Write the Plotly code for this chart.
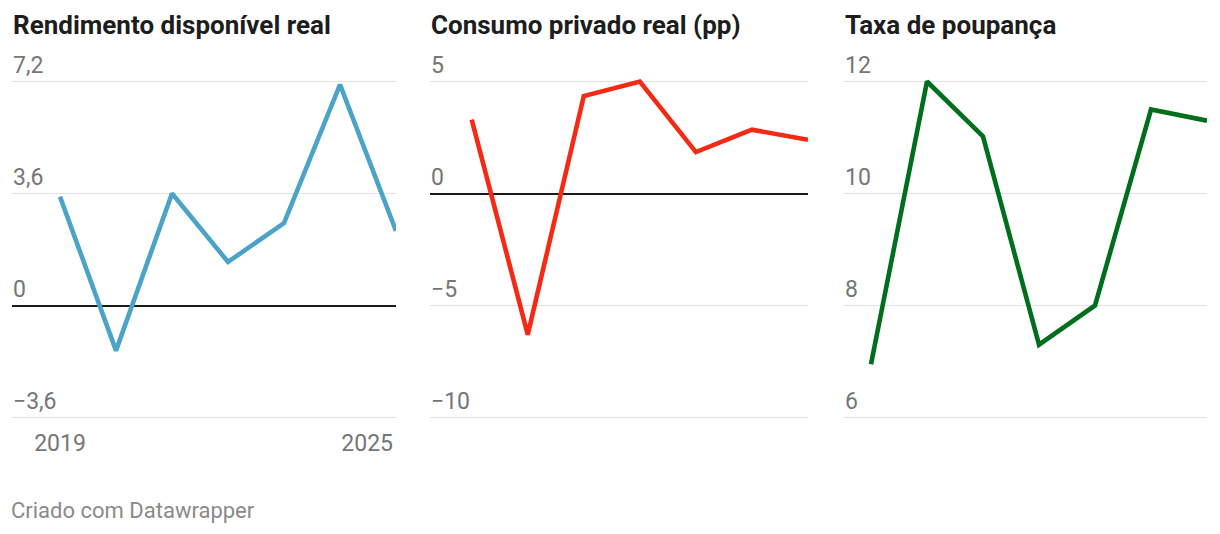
import plotly.graph_objects as go

years = [2019, 2020, 2021, 2022, 2023, 2024, 2025]
rendimento = [3.5, -1.45, 3.6, 1.4, 2.65, 7.1, 2.4]
consumo = [3.3, -6.3, 4.35, 5.0, 1.85, 2.85, 2.4]
poupanca = [6.95, 12.0, 11.02, 7.3, 8.0, 11.5, 11.3]

titles = ["Rendimento disponível real", "Consumo privado real (pp)", "Taxa de poupança"]
colors = ["#4ba4c8", "#f42a14", "#006f1b"]
ytickvals = [[7.2, 3.6, 0, -3.6], [5, 0, -5, -10], [12, 10, 8, 6]]
yticktext = [["7,2", "3,6", "0", "−3,6"], ["5", "0", "−5", "−10"], ["12", "10", "8", "6"]]
xtick_first = [2019]
xtick_first_text = ["2019"]
xtick_last = [2025]
xtick_last_text = ["2025"]
footer = "Criado com Datawrapper"

# page body has an 8px margin: reference pixel coords are shifted by OFF
OFF = 8
W, H = 1220, 534
TOP, BOT, PAD = 81.5 - OFF, 417.5 - OFF, 6
# panel pixel layout in reference coords: (left edge, x of first year, right edge)
panels = [(12, 60, 396), (430, 471.7, 808), (844, 871, 1207)]
TICKFONT = dict(family="Roboto", size=23, color="#767676")

fig = go.Figure()
series = [rendimento, consumo, poupanca]
ydom = [1 - (BOT + PAD) / H, 1 - (TOP - PAD) / H]


def xrange_for(p):
    left, first, right = p
    step = (right - first) / 6
    return [2019 - (first - left) / step, 2025]


def xdom_for(p):
    left, first, right = p
    return [(left - OFF) / W, (right - OFF) / W]


for i, (vals, col) in enumerate(zip(series, colors)):
    ax = "" if i == 0 else str(i + 1)
    fig.add_trace(go.Scatter(x=years, y=vals, mode="lines",
                             line=dict(color=col, width=4.6),
                             xaxis="x" + ax, yaxis="y" + ax,
                             showlegend=False, hoverinfo="skip"))
    lo, hi = min(ytickvals[i]), max(ytickvals[i])
    u = (hi - lo) / (BOT - TOP)
    yr = [lo - PAD * u, hi + PAD * u]
    fig.update_layout(**{
        "xaxis" + ax: dict(domain=xdom_for(panels[i]), range=xrange_for(panels[i]),
                           showgrid=False, zeroline=False, showline=False,
                           tickvals=xtick_first if i == 0 else [],
                           ticktext=xtick_first_text if i == 0 else [],
                           showticklabels=(i == 0), ticks="", ticklabelstandoff=3,
                           automargin=False,
                           tickfont=TICKFONT, anchor="y" + ax, fixedrange=True),
        "yaxis" + ax: dict(domain=ydom, range=yr,
                           tickvals=ytickvals[i], ticktext=yticktext[i],
                           ticklabelposition="inside top", ticklabeloverflow="allow",
                           ticklabelstandoff=-2, automargin=False,
                           tickfont=TICKFONT,
                           showgrid=True, gridcolor="#e1e1e1", gridwidth=1,
                           zeroline=(i < 2), zerolinecolor="#1a1a1a", zerolinewidth=1.6,
                           showline=False, ticks="", anchor="x" + ax, fixedrange=True),
    })
    fig.add_annotation(text="<b>" + titles[i] + "</b>",
                       x=(panels[i][0] - 1 - OFF) / W, y=1 - (25 - OFF) / H,
                       xref="paper", yref="paper", xanchor="left", yanchor="middle",
                       showarrow=False,
                       font=dict(family="Roboto", size=26, color="#1d1d1d"))

# extra axis for the last year label (right-aligned like the reference)
fig.update_layout(xaxis4=dict(domain=xdom_for(panels[0]), range=xrange_for(panels[0]),
                              overlaying="x", anchor="y", showgrid=False, zeroline=False,
                              tickvals=xtick_last, ticktext=xtick_last_text,
                              ticklabelposition="outside left", ticks="",
                              ticklabelstandoff=3, ticklabelshift=-3, automargin=False,
                              tickfont=TICKFONT, side="bottom", fixedrange=True))
fig.add_trace(go.Scatter(x=[], y=[], xaxis="x4", yaxis="y", showlegend=False))

fig.add_annotation(text=footer, x=(9 - OFF) / W, y=1 - (510 - OFF) / H,
                   xref="paper", yref="paper",
                   xanchor="left", yanchor="middle", showarrow=False,
                   font=dict(family="Roboto", size=22, color="#8a8a8a"))

fig.update_layout(width=W, height=H, margin=dict(l=0, r=0, t=0, b=0),
                  paper_bgcolor="white", plot_bgcolor="white",
                  separators=",.", hovermode=False)
fig.write_html("out.html")
